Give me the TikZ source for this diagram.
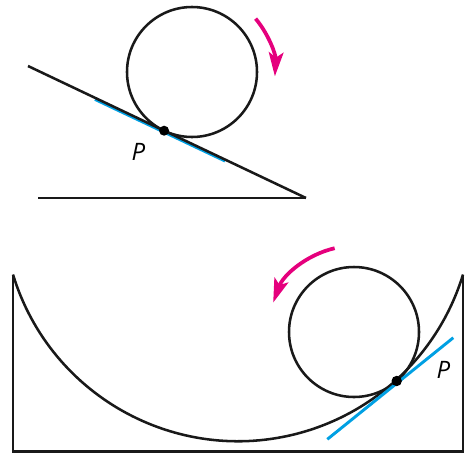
\documentclass[tikz,border=0pt]{standalone}
\usepackage{fontspec}
\setmainfont{Open Sans}
\usetikzlibrary{arrows.meta}
\definecolor{mag}{HTML}{E5007D}
\definecolor{tanblue}{HTML}{00A0E3}
\begin{document}
\begin{tikzpicture}[x=0.75pt,y=0.75pt,
  blk/.style={line width=1.9pt,black!90},
  tanline/.style={line width=2.2pt,tanblue},
  rotarrow/.style={line width=2.8pt,mag,-{Stealth[length=18pt,width=11pt,inset=4pt]}},
  plabel/.style={font=\fontsize{18}{20}\selectfont\itshape,inner sep=0pt}]
\useasboundingbox (0,0) rectangle (470,455);
% ---------- top: wheel on incline ----------
\coordinate (baseL) at (38,257);
\coordinate (baseR) at (306,257);
\coordinate (inclTop) at (28,389);
\coordinate (C1) at (192,383);
\coordinate (P1) at (164.1,324.3);
\coordinate (b1a) at (95,355.6);
\coordinate (b1b) at (225,294.0);
\draw[tanline] (b1a) -- (b1b);
\draw[blk] (baseL) -- (baseR);
\draw[blk] (inclTop) -- (baseR);
\draw[blk] (C1) circle (65);
\fill (P1) circle (5);
\node[plabel] (lab1) at (138.3,303.3) {P};
\draw[rotarrow] ([shift={(40:83)}]C1) arc[start angle=40,end angle=-3,radius=83];
% ---------- bottom: wheel in bowl ----------
\coordinate (boxTL) at (13,180.5);
\coordinate (boxBL) at (13,3.5);
\coordinate (boxBR) at (463,3.5);
\coordinate (boxTR) at (463,180.5);
\coordinate (C2) at (354,123);
\coordinate (P2) at (396.7,74);
\coordinate (b2a) at (327.3,15.7);
\coordinate (b2b) at (453.3,117.3);
\draw[blk] (boxTL) -- (boxBL) -- (boxBR) -- (boxTR);
\draw[blk] (boxTL) arc[start angle=196.93,end angle=343.07,radius=235.2];
\draw[blk] (C2) circle (65);
\draw[tanline] (b2a) -- (b2b);
\fill (P2) circle (5.2);
\node[plabel] (lab2) at (443.3,85) {P};
\draw[rotarrow] ([shift={(103:86)}]C2) arc[start angle=103,end angle=160,radius=86];
\end{tikzpicture}
\end{document}
